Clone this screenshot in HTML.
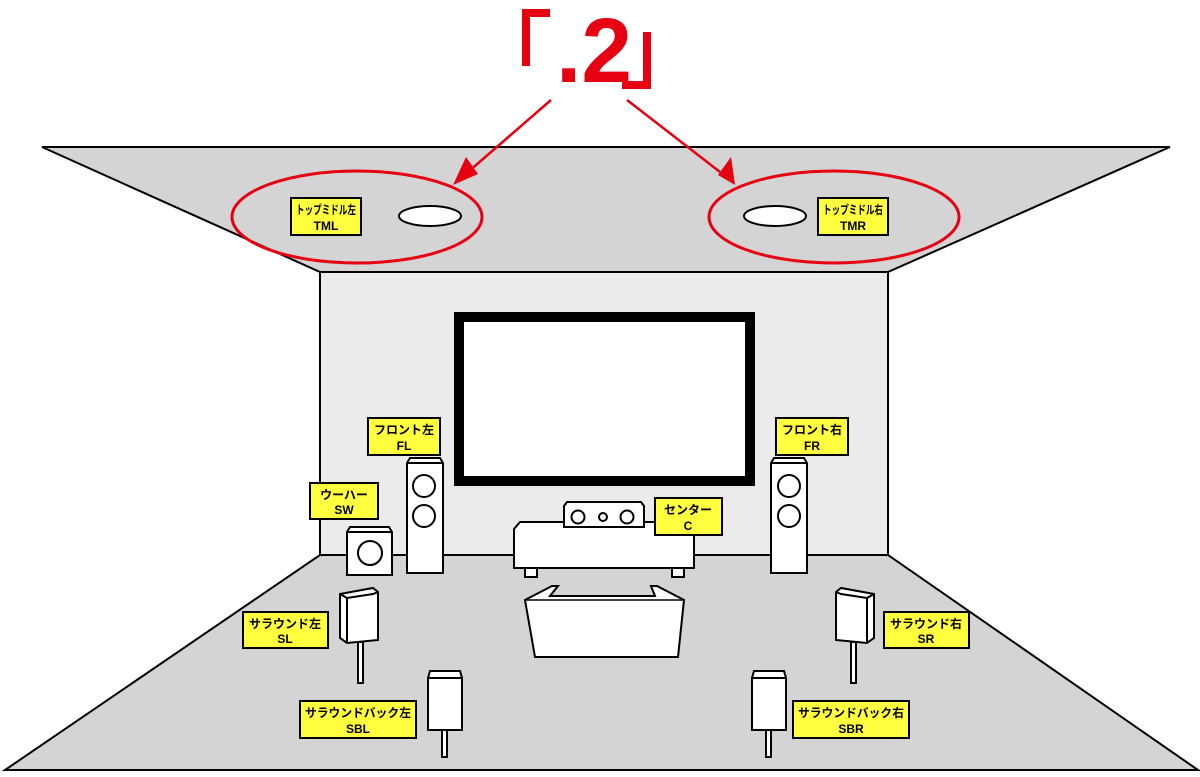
<!DOCTYPE html>
<html><head><meta charset="utf-8"><style>
html,body{margin:0;padding:0;background:#fff;}
svg{display:block;}
.lb{font-family:"Liberation Sans","Noto Sans CJK JP",sans-serif;font-weight:bold;font-size:12px;fill:#000;text-anchor:middle;}
</style></head><body>
<svg width="1200" height="777" viewBox="0 0 1200 777" xmlns="http://www.w3.org/2000/svg">
<!-- ceiling -->
<polygon points="42,147 1170,147 888,272 320,272" fill="#d4d4d4" stroke="#000" stroke-width="2"/>
<!-- back wall -->
<rect x="320" y="272" width="568" height="283" fill="#ebebeb" stroke="#000" stroke-width="2"/>
<!-- floor -->
<polygon points="320,555 888,555 1198,770 5,770" fill="#d4d4d4" stroke="#000" stroke-width="2"/>
<!-- screen -->
<rect x="459" y="317" width="291" height="164" fill="#fff" stroke="#000" stroke-width="10"/>
<!-- ceiling speakers -->
<ellipse cx="430" cy="216" rx="31" ry="10" fill="#fff" stroke="#000" stroke-width="2"/>
<ellipse cx="775" cy="216" rx="31" ry="10" fill="#fff" stroke="#000" stroke-width="2"/>
<ellipse cx="357" cy="217" rx="125" ry="46" fill="none" stroke="#e60012" stroke-width="3"/>
<ellipse cx="834" cy="217" rx="125" ry="46" fill="none" stroke="#e60012" stroke-width="3"/>
<!-- .2 -->
<path d="M550,9 L522,9 L522,66 L530,66 L530,17 L550,17 Z" fill="#e60012"/>
<path d="M622,89 L651,89 L651,32 L643,32 L643,81 L622,81 Z" fill="#e60012"/>
<text x="594" y="82" font-family="Liberation Sans,sans-serif" font-weight="bold" font-size="92" fill="#e60012" text-anchor="middle" textLength="76" lengthAdjust="spacingAndGlyphs">.2</text>
<line x1="551" y1="100" x2="468" y2="172" stroke="#e60012" stroke-width="2.5"/>
<polygon points="453,185 466,157 478,174" fill="#e60012"/>
<line x1="627" y1="100" x2="720" y2="172" stroke="#e60012" stroke-width="2.5"/>
<polygon points="735,185 718,175 731,157" fill="#e60012"/>
<g stroke="#000" stroke-width="2" fill="#fff">
<!-- FL -->
<polygon points="407,463 410,458 440,458 443,463 443,573 407,573"/>
<line x1="407" y1="463" x2="443" y2="463"/>
<circle cx="424" cy="486" r="11"/><circle cx="424" cy="516" r="11"/>
<!-- FR -->
<polygon points="771,463 774,458 804,458 807,463 807,573 771,573"/>
<line x1="771" y1="463" x2="807" y2="463"/>
<circle cx="789" cy="486" r="11"/><circle cx="789" cy="516" r="11"/>
<!-- SW -->
<polygon points="347,532 350,527 389,527 392,532 392,575 347,575"/>
<line x1="347" y1="532" x2="392" y2="532"/>
<circle cx="370" cy="553" r="12"/>
<!-- SL -->
<rect x="358" y="642" width="5" height="41"/>
<polygon points="340,594 373,588 378,592 378,640 347,643 340,638"/>
<polyline points="340,594 347,598 373,594 378,592" fill="none"/>
<line x1="347" y1="598" x2="347" y2="643"/>
<!-- SR -->
<rect x="851" y="642" width="5" height="41"/>
<polygon points="836,592 841,588 874,594 874,638 867,643 836,640"/>
<polyline points="836,592 841,594 867,598 874,594" fill="none"/>
<line x1="867" y1="598" x2="867" y2="643"/>
<!-- SBL -->
<rect x="442" y="730" width="5" height="27"/>
<polygon points="428,678 430,671 460,671 462,678 462,730 428,730"/>
<line x1="428" y1="678" x2="462" y2="678"/>
<!-- SBR -->
<rect x="766" y="730" width="5" height="27"/>
<polygon points="752,678 754,671 784,671 786,678 786,730 752,730"/>
<line x1="752" y1="678" x2="786" y2="678"/>
<!-- center -->
<rect x="525" y="568" width="12" height="9"/><rect x="672" y="568" width="12" height="9"/>
<polygon points="514,529 520,522 690,522 694,529 694,568 514,568"/>
<polygon points="564,506 567,502 641,502 644,506 644,527 564,527"/>
<circle cx="578" cy="517" r="6.5"/><circle cx="603" cy="517" r="4"/><circle cx="627" cy="517" r="6.5"/>
<!-- sofa -->
<polygon points="525,600 552,586 558,586 550,596 655,596 651,586 657,586 684,600 678,657 535,657"/>
<line x1="525" y1="600" x2="684" y2="600" stroke-width="1.5"/>
</g>
<!-- labels -->
<g stroke="#000" stroke-width="2" fill="#ffff40">
<rect x="291" y="198" width="70" height="37"/>
<rect x="818" y="198" width="70" height="37"/>
<rect x="368" y="418" width="72" height="37"/>
<rect x="776" y="418" width="72" height="37"/>
<rect x="310" y="483" width="68" height="36"/>
<rect x="655" y="498" width="67" height="37"/>
<rect x="243" y="612" width="85" height="36"/>
<rect x="884" y="612" width="85" height="36"/>
<rect x="300" y="701" width="116" height="37"/>
<rect x="793" y="701" width="116" height="37"/>
</g>
<g class="lb">
<text x="326" y="214" class="lb" textLength="60" lengthAdjust="spacingAndGlyphs">トップミドル左</text><text x="326" y="230" class="lb">TML</text>
<text x="853" y="214" class="lb" textLength="60" lengthAdjust="spacingAndGlyphs">トップミドル右</text><text x="853" y="230" class="lb">TMR</text>
<text x="404" y="434" class="lb">フロント左</text><text x="404" y="450" class="lb">FL</text>
<text x="812" y="434" class="lb">フロント右</text><text x="812" y="450" class="lb">FR</text>
<text x="344" y="499" class="lb">ウーハー</text><text x="344" y="514" class="lb">SW</text>
<text x="688" y="514" class="lb">センター</text><text x="688" y="530" class="lb">C</text>
<text x="285" y="628" class="lb">サラウンド左</text><text x="285" y="643" class="lb">SL</text>
<text x="926" y="628" class="lb">サラウンド右</text><text x="926" y="643" class="lb">SR</text>
<text x="358" y="717" class="lb" textLength="106" lengthAdjust="spacingAndGlyphs">サラウンドバック左</text><text x="358" y="733" class="lb">SBL</text>
<text x="851" y="717" class="lb" textLength="106" lengthAdjust="spacingAndGlyphs">サラウンドバック右</text><text x="851" y="733" class="lb">SBR</text>
</g>
</svg>
</body></html>
